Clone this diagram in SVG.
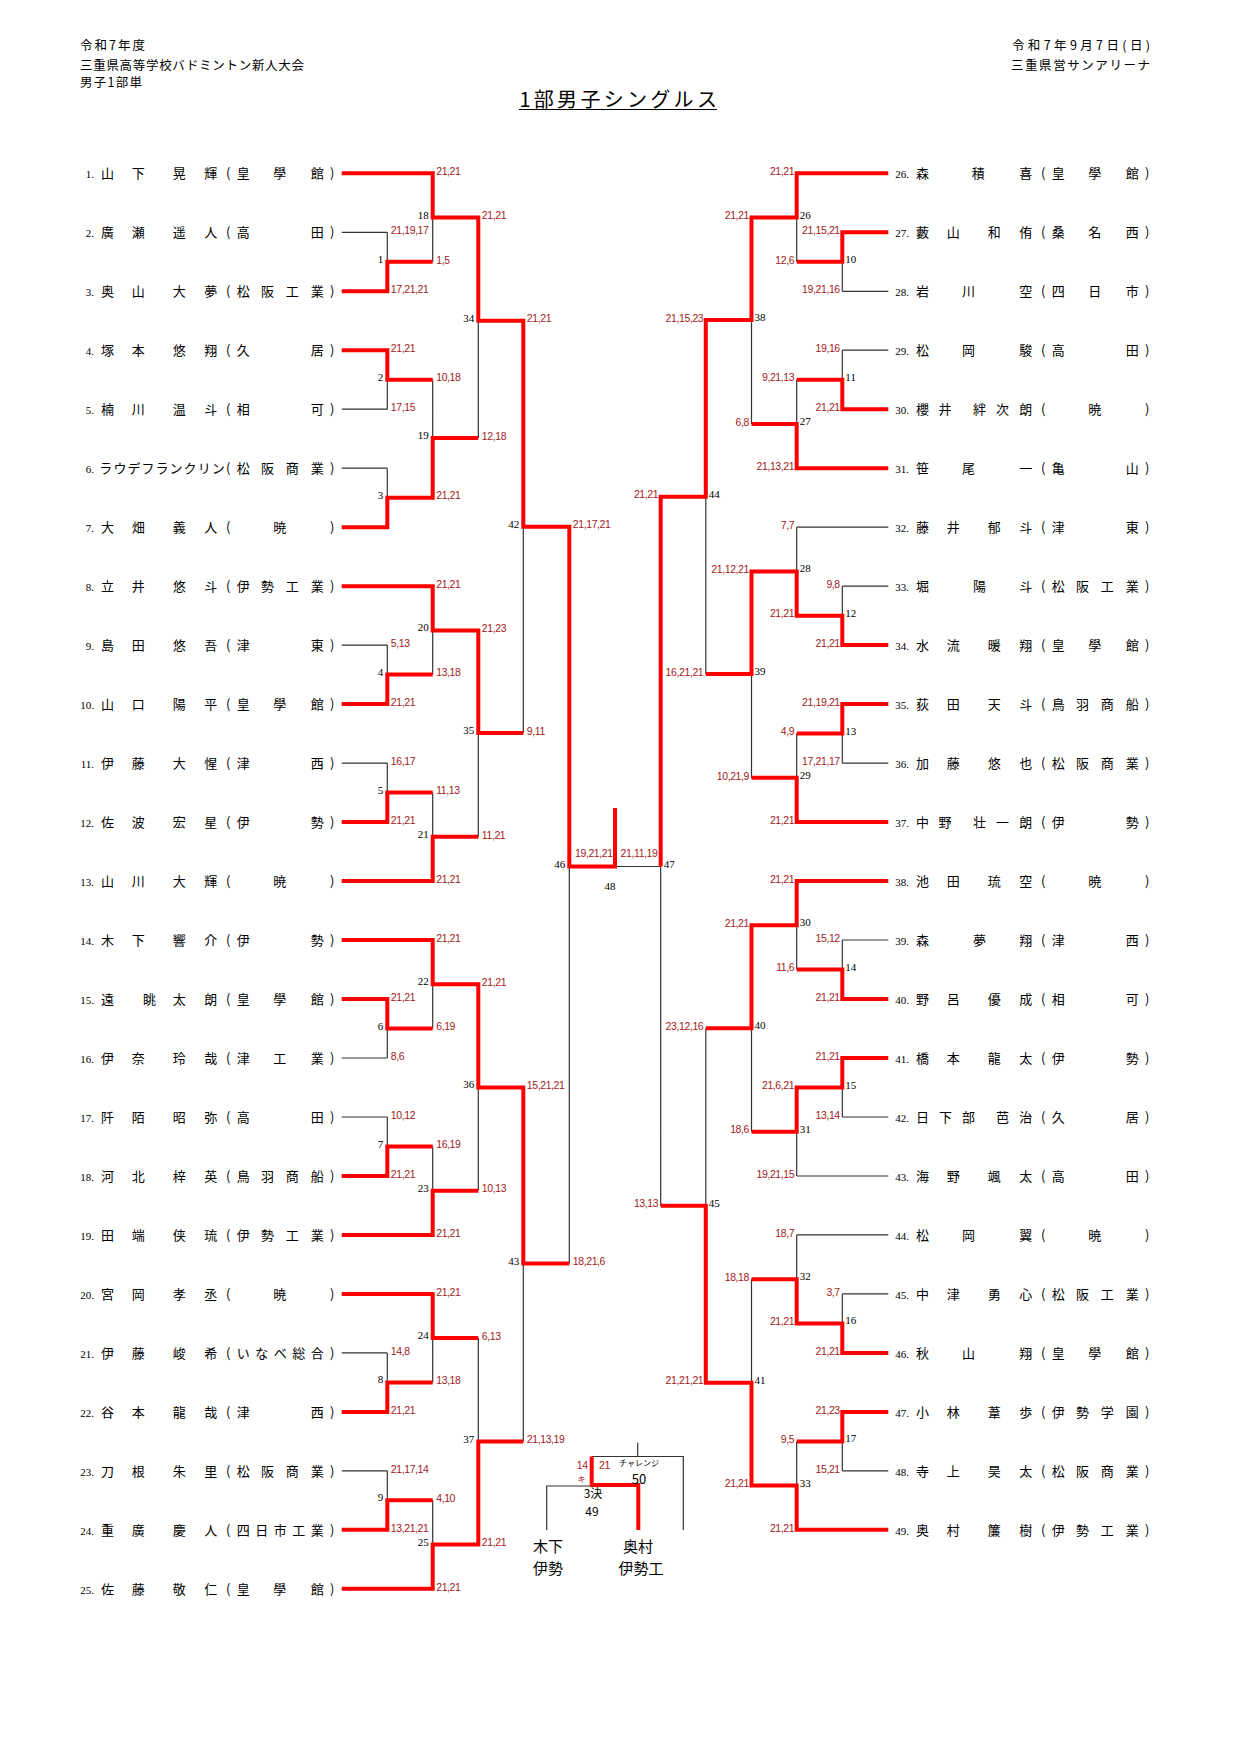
<svg xmlns="http://www.w3.org/2000/svg" width="1241" height="1755" viewBox="0 0 1241 1755">
<style>
.hd{font-family:"Noto Sans CJK JP",sans-serif;font-size:12.5px;fill:#000}
.nm{font-family:"Noto Sans CJK JP",sans-serif;font-size:13px;fill:#000}
.no{font-family:"Liberation Serif",serif;font-size:11px;fill:#000;text-anchor:end}
.mn{font-family:"Liberation Serif",serif;font-size:11px;fill:#000;text-anchor:end}
.mr{font-family:"Liberation Serif",serif;font-size:11px;fill:#000}
.sl{font-family:"Liberation Sans",sans-serif;font-size:10.5px;fill:#a31a1a;letter-spacing:-0.4px}
.sr{font-family:"Liberation Sans",sans-serif;font-size:10.5px;fill:#a31a1a;letter-spacing:-0.4px;text-anchor:end}
.w{fill:none;stroke:#ff0000;stroke-width:4;stroke-linejoin:miter}
.l{fill:none;stroke:#333;stroke-width:1.2}
.bt{font-family:"Noto Sans CJK JP",sans-serif;fill:#000;text-anchor:middle}
</style>
<rect width="1241" height="1755" fill="#fff"/>
<g id="header">
<text class="hd" x="80" y="50" textLength="65">令和7年度</text>
<text class="hd" x="80" y="70" textLength="224">三重県高等学校バドミントン新人大会</text>
<text class="hd" x="80" y="87" textLength="62">男子1部単</text>
<text class="hd" x="1012" y="50" textLength="138">令和7年9月7日(日)</text>
<text class="hd" x="1011" y="70" textLength="139">三重県営サンアリーナ</text>
</g>
<g id="title">
<text x="519.4" y="107" textLength="197.5" font-family="Noto Sans CJK JP, sans-serif" font-size="20">1部男子シングルス</text>
<line x1="519" y1="109.5" x2="717" y2="109.5" stroke="#000" stroke-width="1"/>
</g>
<g id="connectors">
<path class="l" d="M341.7 232.3H387.3M341.7 409.2H387.3M341.7 468.2H387.3M341.7 645.1H387.3M341.7 763.1H387.3M341.7 1058H387.3M341.7 1117H387.3M341.7 1352.9H387.3M341.7 1470.8H387.3
M387.3 232.3V261.8M387.3 379.7V409.2M387.3 468.2V497.7M387.3 645.1V674.6M387.3 763.1V792.6M387.3 1028.5V1058M387.3 1117V1146.5M387.3 1352.9V1382.4M387.3 1470.8V1500.3
M432.7 217.5V261.8M432.7 379.7V438M432.7 630.4V674.6M432.7 792.6V836.8M432.7 984.2V1028.5M432.7 1146.5V1190.7M432.7 1338.1V1382.4M432.7 1500.3V1544.5
M478.3 320.7V438M478.3 733V836.8M478.3 1087.4V1190.7M478.3 1338.1V1441.5
M523.3 526.7V733M523.3 1263.5V1441.5M569.3 866.5V1263.5M615 866.5H660.7M660.7 866.5V1205.7
M705.8 496.7V674M705.8 1028.3V1205.7
M751.5 320V424M751.5 674V777.8M751.5 1028.3V1131.7M751.5 1279.2V1382.7
M796.7 217.5V261.8M796.7 379.7V424M796.7 527.2V571.4M796.7 733.6V777.8M796.7 925.3V969.5M796.7 1131.7V1176M796.7 1234.9V1279.2M796.7 1441.4V1485.6
M842.3 261.8V291.3M842.3 350.2V379.7M842.3 586.2V615.7M842.3 733.6V763.1M842.3 940V969.5M842.3 1087.5V1117M842.3 1293.9V1323.4M842.3 1441.4V1470.8
M888.3 291.3H842.3M888.3 350.2H842.3M888.3 527.2H796.7M888.3 586.2H842.3M888.3 763.1H842.3M888.3 940H842.3M888.3 1117H842.3M888.3 1176H796.7M888.3 1234.9H796.7M888.3 1293.9H842.3M888.3 1470.8H842.3
M546.7 1530V1486H591.7M591.7 1456.5H683.3V1530M637.7 1442.7V1456.5"/>
<path class="w" d="M341.7 173.3H432.7V217.5H478.3V320.7H523.3V526.7H569.3V866.5H615V808"/>
<path class="w" d="M341.7 291.3H387.3V261.8H432.7"/>
<path class="w" d="M341.7 350.2H387.3V379.7H432.7"/>
<path class="w" d="M341.7 527.2H387.3V497.7H432.7V438H478.3"/>
<path class="w" d="M341.7 586.2H432.7V630.4H478.3V733H523.3"/>
<path class="w" d="M341.7 704.1H387.3V674.6H432.7"/>
<path class="w" d="M341.7 822.1H387.3V792.6H432.7"/>
<path class="w" d="M341.7 881.1H432.7V836.8H478.3"/>
<path class="w" d="M341.7 940H432.7V984.2H478.3V1087.4H523.3V1263.5H569.3"/>
<path class="w" d="M341.7 999H387.3V1028.5H432.7"/>
<path class="w" d="M341.7 1176H387.3V1146.5H432.7"/>
<path class="w" d="M341.7 1234.9H432.7V1190.7H478.3"/>
<path class="w" d="M341.7 1293.9H432.7V1338.1H478.3"/>
<path class="w" d="M341.7 1411.9H387.3V1382.4H432.7"/>
<path class="w" d="M341.7 1529.8H387.3V1500.3H432.7"/>
<path class="w" d="M341.7 1588.8H432.7V1544.5H478.3V1441.5H523.3"/>
<path class="w" d="M888.3 173.3H796.7V217.5H751.5V320H705.8V496.7H660.7V866.5"/>
<path class="w" d="M888.3 232.3H842.3V261.8H796.7"/>
<path class="w" d="M888.3 409.2H842.3V379.7H796.7"/>
<path class="w" d="M888.3 468.2H796.7V424H751.5"/>
<path class="w" d="M888.3 645.1H842.3V615.7H796.7V571.4H751.5V674H705.8"/>
<path class="w" d="M888.3 704.1H842.3V733.6H796.7"/>
<path class="w" d="M888.3 822.1H796.7V777.8H751.5"/>
<path class="w" d="M888.3 881.1H796.7V925.3H751.5V1028.3H705.8"/>
<path class="w" d="M888.3 999H842.3V969.5H796.7"/>
<path class="w" d="M888.3 1058H842.3V1087.5H796.7V1131.7H751.5"/>
<path class="w" d="M888.3 1352.9H842.3V1323.4H796.7V1279.2H751.5"/>
<path class="w" d="M888.3 1411.9H842.3V1441.4H796.7"/>
<path class="w" d="M888.3 1529.8H796.7V1485.6H751.5V1382.7H705.8V1205.7H660.7"/>
<path class="w" d="M638.3 1530V1485H591.7V1456.5"/>
</g>
<g id="players-left">
<g id="p1"><text class="no" x="94" y="178.3">1.</text><text class="nm" x="101 131.7 172.7 204.3 226 236.7 273.3 310.7 330" y="178.3">山下晃輝(皇學館)</text></g>
<g id="p2"><text class="no" x="94" y="237.3">2.</text><text class="nm" x="101 131.7 172.7 204.3 226 236.7 310.7 330" y="237.3">廣瀬遥人(高田)</text></g>
<g id="p3"><text class="no" x="94" y="296.3">3.</text><text class="nm" x="101 131.7 172.7 204.3 226 236.7 261 285.7 310.7 330" y="296.3">奥山大夢(松阪工業)</text></g>
<g id="p4"><text class="no" x="94" y="355.2">4.</text><text class="nm" x="101 131.7 172.7 204.3 226 236.7 310.7 330" y="355.2">塚本悠翔(久居)</text></g>
<g id="p5"><text class="no" x="94" y="414.2">5.</text><text class="nm" x="101 131.7 172.7 204.3 226 236.7 310.7 330" y="414.2">楠川温斗(相可)</text></g>
<g id="p6"><text class="no" x="94" y="473.2">6.</text><text class="nm" x="99.3 113.4 127.4 141.5 155.5 169.6 183.6 197.7 211.7 226 236.7 261 285.7 310.7 330" y="473.2">ラウデフランクリン(松阪商業)</text></g>
<g id="p7"><text class="no" x="94" y="532.2">7.</text><text class="nm" x="101 131.7 172.7 204.3 226 273.3 330" y="532.2">大畑義人(暁)</text></g>
<g id="p8"><text class="no" x="94" y="591.2">8.</text><text class="nm" x="101 131.7 172.7 204.3 226 236.7 261 285.7 310.7 330" y="591.2">立井悠斗(伊勢工業)</text></g>
<g id="p9"><text class="no" x="94" y="650.1">9.</text><text class="nm" x="101 131.7 172.7 204.3 226 236.7 310.7 330" y="650.1">島田悠吾(津東)</text></g>
<g id="p10"><text class="no" x="94" y="709.1">10.</text><text class="nm" x="101 131.7 172.7 204.3 226 236.7 273.3 310.7 330" y="709.1">山口陽平(皇學館)</text></g>
<g id="p11"><text class="no" x="94" y="768.1">11.</text><text class="nm" x="101 131.7 172.7 204.3 226 236.7 310.7 330" y="768.1">伊藤大惺(津西)</text></g>
<g id="p12"><text class="no" x="94" y="827.1">12.</text><text class="nm" x="101 131.7 172.7 204.3 226 236.7 310.7 330" y="827.1">佐波宏星(伊勢)</text></g>
<g id="p13"><text class="no" x="94" y="886.1">13.</text><text class="nm" x="101 131.7 172.7 204.3 226 273.3 330" y="886.1">山川大輝(暁)</text></g>
<g id="p14"><text class="no" x="94" y="945">14.</text><text class="nm" x="101 131.7 172.7 204.3 226 236.7 310.7 330" y="945">木下響介(伊勢)</text></g>
<g id="p15"><text class="no" x="94" y="1004">15.</text><text class="nm" x="101 143 172.7 204.3 226 236.7 273.3 310.7 330" y="1004">遠眺太朗(皇學館)</text></g>
<g id="p16"><text class="no" x="94" y="1063">16.</text><text class="nm" x="101 131.7 172.7 204.3 226 236.7 273.3 310.7 330" y="1063">伊奈玲哉(津工業)</text></g>
<g id="p17"><text class="no" x="94" y="1122">17.</text><text class="nm" x="101 131.7 172.7 204.3 226 236.7 310.7 330" y="1122">阡陌昭弥(高田)</text></g>
<g id="p18"><text class="no" x="94" y="1181">18.</text><text class="nm" x="101 131.7 172.7 204.3 226 236.7 261 285.7 310.7 330" y="1181">河北梓英(鳥羽商船)</text></g>
<g id="p19"><text class="no" x="94" y="1239.9">19.</text><text class="nm" x="101 131.7 172.7 204.3 226 236.7 261 285.7 310.7 330" y="1239.9">田端侠琉(伊勢工業)</text></g>
<g id="p20"><text class="no" x="94" y="1298.9">20.</text><text class="nm" x="101 131.7 172.7 204.3 226 273.3 330" y="1298.9">宮岡孝丞(暁)</text></g>
<g id="p21"><text class="no" x="94" y="1357.9">21.</text><text class="nm" x="101 131.7 172.7 204.3 226 236.7 255.2 273.7 292.2 310.7 330" y="1357.9">伊藤峻希(いなべ総合)</text></g>
<g id="p22"><text class="no" x="94" y="1416.9">22.</text><text class="nm" x="101 131.7 172.7 204.3 226 236.7 310.7 330" y="1416.9">谷本龍哉(津西)</text></g>
<g id="p23"><text class="no" x="94" y="1475.8">23.</text><text class="nm" x="101 131.7 172.7 204.3 226 236.7 261 285.7 310.7 330" y="1475.8">刀根朱里(松阪商業)</text></g>
<g id="p24"><text class="no" x="94" y="1534.8">24.</text><text class="nm" x="101 131.7 172.7 204.3 226 236.7 255.2 273.7 292.2 310.7 330" y="1534.8">重廣慶人(四日市工業)</text></g>
<g id="p25"><text class="no" x="94" y="1593.8">25.</text><text class="nm" x="101 131.7 172.7 204.3 226 236.7 273.3 310.7 330" y="1593.8">佐藤敬仁(皇學館)</text></g>
</g>
<g id="players-right">
<g id="p26"><text class="no" x="909" y="178.3">26.</text><text class="nm" x="916 971.7 1019.3 1041 1051.7 1088.3 1125.7 1145" y="178.3">森積喜(皇學館)</text></g>
<g id="p27"><text class="no" x="909" y="237.3">27.</text><text class="nm" x="916 946.7 987.7 1019.3 1041 1051.7 1088.3 1125.7 1145" y="237.3">藪山和侑(桑名西)</text></g>
<g id="p28"><text class="no" x="909" y="296.3">28.</text><text class="nm" x="916 962 1019.3 1041 1051.7 1088.3 1125.7 1145" y="296.3">岩川空(四日市)</text></g>
<g id="p29"><text class="no" x="909" y="355.2">29.</text><text class="nm" x="916 962 1019.3 1041 1051.7 1125.7 1145" y="355.2">松岡駿(高田)</text></g>
<g id="p30"><text class="no" x="909" y="414.2">30.</text><text class="nm" x="916 938.5 973 996 1019.3 1041 1088.3 1145" y="414.2">櫻井絆次朗(暁)</text></g>
<g id="p31"><text class="no" x="909" y="473.2">31.</text><text class="nm" x="916 962 1019.3 1041 1051.7 1125.7 1145" y="473.2">笹尾一(亀山)</text></g>
<g id="p32"><text class="no" x="909" y="532.2">32.</text><text class="nm" x="916 946.7 987.7 1019.3 1041 1051.7 1125.7 1145" y="532.2">藤井郁斗(津東)</text></g>
<g id="p33"><text class="no" x="909" y="591.2">33.</text><text class="nm" x="916 973 1019.3 1041 1051.7 1076 1100.7 1125.7 1145" y="591.2">堀陽斗(松阪工業)</text></g>
<g id="p34"><text class="no" x="909" y="650.1">34.</text><text class="nm" x="916 946.7 987.7 1019.3 1041 1051.7 1088.3 1125.7 1145" y="650.1">水流暖翔(皇學館)</text></g>
<g id="p35"><text class="no" x="909" y="709.1">35.</text><text class="nm" x="916 946.7 987.7 1019.3 1041 1051.7 1076 1100.7 1125.7 1145" y="709.1">荻田天斗(鳥羽商船)</text></g>
<g id="p36"><text class="no" x="909" y="768.1">36.</text><text class="nm" x="916 946.7 987.7 1019.3 1041 1051.7 1076 1100.7 1125.7 1145" y="768.1">加藤悠也(松阪商業)</text></g>
<g id="p37"><text class="no" x="909" y="827.1">37.</text><text class="nm" x="916 938.5 973 996 1019.3 1041 1051.7 1125.7 1145" y="827.1">中野壮一朗(伊勢)</text></g>
<g id="p38"><text class="no" x="909" y="886.1">38.</text><text class="nm" x="916 946.7 987.7 1019.3 1041 1088.3 1145" y="886.1">池田琉空(暁)</text></g>
<g id="p39"><text class="no" x="909" y="945">39.</text><text class="nm" x="916 973 1019.3 1041 1051.7 1125.7 1145" y="945">森夢翔(津西)</text></g>
<g id="p40"><text class="no" x="909" y="1004">40.</text><text class="nm" x="916 946.7 987.7 1019.3 1041 1051.7 1125.7 1145" y="1004">野呂優成(相可)</text></g>
<g id="p41"><text class="no" x="909" y="1063">41.</text><text class="nm" x="916 946.7 987.7 1019.3 1041 1051.7 1125.7 1145" y="1063">橋本龍太(伊勢)</text></g>
<g id="p42"><text class="no" x="909" y="1122">42.</text><text class="nm" x="916 939 962 996 1019.3 1041 1051.7 1125.7 1145" y="1122">日下部芭治(久居)</text></g>
<g id="p43"><text class="no" x="909" y="1181">43.</text><text class="nm" x="916 946.7 987.7 1019.3 1041 1051.7 1125.7 1145" y="1181">海野颯太(高田)</text></g>
<g id="p44"><text class="no" x="909" y="1239.9">44.</text><text class="nm" x="916 962 1019.3 1041 1088.3 1145" y="1239.9">松岡翼(暁)</text></g>
<g id="p45"><text class="no" x="909" y="1298.9">45.</text><text class="nm" x="916 946.7 987.7 1019.3 1041 1051.7 1076 1100.7 1125.7 1145" y="1298.9">中津勇心(松阪工業)</text></g>
<g id="p46"><text class="no" x="909" y="1357.9">46.</text><text class="nm" x="916 962 1019.3 1041 1051.7 1088.3 1125.7 1145" y="1357.9">秋山翔(皇學館)</text></g>
<g id="p47"><text class="no" x="909" y="1416.9">47.</text><text class="nm" x="916 946.7 987.7 1019.3 1041 1051.7 1076 1100.7 1125.7 1145" y="1416.9">小林葦歩(伊勢学園)</text></g>
<g id="p48"><text class="no" x="909" y="1475.8">48.</text><text class="nm" x="916 946.7 987.7 1019.3 1041 1051.7 1076 1100.7 1125.7 1145" y="1475.8">寺上昊太(松阪商業)</text></g>
<g id="p49"><text class="no" x="909" y="1534.8">49.</text><text class="nm" x="916 946.7 987.7 1019.3 1041 1051.7 1076 1100.7 1125.7 1145" y="1534.8">奥村簾樹(伊勢工業)</text></g>
</g>
<g id="matches-left">
<g id="m1"><text class="mn" x="383.3" y="262.8">1</text><text class="sl" x="390.8" y="234">21,19,17</text><text class="sl" x="390.8" y="293">17,21,21</text></g>
<g id="m2"><text class="mn" x="383.3" y="380.7">2</text><text class="sl" x="390.8" y="351.9">21,21</text><text class="sl" x="390.8" y="410.9">17,15</text></g>
<g id="m3"><text class="mn" x="383.3" y="498.7">3</text></g>
<g id="m4"><text class="mn" x="383.3" y="675.6">4</text><text class="sl" x="390.8" y="646.8">5,13</text><text class="sl" x="390.8" y="705.8">21,21</text></g>
<g id="m5"><text class="mn" x="383.3" y="793.6">5</text><text class="sl" x="390.8" y="764.8">16,17</text><text class="sl" x="390.8" y="823.8">21,21</text></g>
<g id="m6"><text class="mn" x="383.3" y="1029.5">6</text><text class="sl" x="390.8" y="1000.7">21,21</text><text class="sl" x="390.8" y="1059.7">8,6</text></g>
<g id="m7"><text class="mn" x="383.3" y="1147.5">7</text><text class="sl" x="390.8" y="1118.7">10,12</text><text class="sl" x="390.8" y="1177.7">21,21</text></g>
<g id="m8"><text class="mn" x="383.3" y="1383.4">8</text><text class="sl" x="390.8" y="1354.6">14,8</text><text class="sl" x="390.8" y="1413.6">21,21</text></g>
<g id="m9"><text class="mn" x="383.3" y="1501.3">9</text><text class="sl" x="390.8" y="1472.5">21,17,14</text><text class="sl" x="390.8" y="1531.5">13,21,21</text></g>
<g id="m18"><text class="mn" x="428.7" y="218.5">18</text><text class="sl" x="436.2" y="175">21,21</text><text class="sl" x="436.2" y="263.5">1,5</text></g>
<g id="m19"><text class="mn" x="428.7" y="439">19</text><text class="sl" x="436.2" y="381.4">10,18</text><text class="sl" x="436.2" y="499.4">21,21</text></g>
<g id="m20"><text class="mn" x="428.7" y="631.4">20</text><text class="sl" x="436.2" y="587.9">21,21</text><text class="sl" x="436.2" y="676.3">13,18</text></g>
<g id="m21"><text class="mn" x="428.7" y="837.8">21</text><text class="sl" x="436.2" y="794.3">11,13</text><text class="sl" x="436.2" y="882.8">21,21</text></g>
<g id="m22"><text class="mn" x="428.7" y="985.2">22</text><text class="sl" x="436.2" y="941.7">21,21</text><text class="sl" x="436.2" y="1030.2">6,19</text></g>
<g id="m23"><text class="mn" x="428.7" y="1191.7">23</text><text class="sl" x="436.2" y="1148.2">16,19</text><text class="sl" x="436.2" y="1236.6">21,21</text></g>
<g id="m24"><text class="mn" x="428.7" y="1339.1">24</text><text class="sl" x="436.2" y="1295.6">21,21</text><text class="sl" x="436.2" y="1384.1">13,18</text></g>
<g id="m25"><text class="mn" x="428.7" y="1545.5">25</text><text class="sl" x="436.2" y="1502">4,10</text><text class="sl" x="436.2" y="1590.5">21,21</text></g>
<g id="m34"><text class="mn" x="474.3" y="321.7">34</text><text class="sl" x="481.8" y="219.2">21,21</text><text class="sl" x="481.8" y="439.7">12,18</text></g>
<g id="m35"><text class="mn" x="474.3" y="734">35</text><text class="sl" x="481.8" y="632.1">21,23</text><text class="sl" x="481.8" y="838.5">11,21</text></g>
<g id="m36"><text class="mn" x="474.3" y="1088.4">36</text><text class="sl" x="481.8" y="985.9">21,21</text><text class="sl" x="481.8" y="1192.4">10,13</text></g>
<g id="m37"><text class="mn" x="474.3" y="1442.5">37</text><text class="sl" x="481.8" y="1339.8">6,13</text><text class="sl" x="481.8" y="1546.2">21,21</text></g>
<g id="m42"><text class="mn" x="519.3" y="527.7">42</text><text class="sl" x="526.8" y="322.4">21,21</text><text class="sl" x="526.8" y="734.7">9,11</text></g>
<g id="m43"><text class="mn" x="519.3" y="1264.5">43</text><text class="sl" x="526.8" y="1089.1">15,21,21</text><text class="sl" x="526.8" y="1443.2">21,13,19</text></g>
<g id="m46"><text class="mn" x="565.3" y="867.5">46</text><text class="sl" x="572.8" y="528.4">21,17,21</text><text class="sl" x="572.8" y="1265.2">18,21,6</text></g>
</g>
<g id="m48"><text class="mr" x="610" y="890" text-anchor="middle">48</text><text class="sl" x="575" y="857">19,21,21</text><text class="sr" x="657.5" y="857">21,11,19</text></g>
<g id="matches-right">
<g id="m10"><text class="mr" x="845.3" y="262.8">10</text><text class="sr" x="839.8" y="234">21,15,21</text><text class="sr" x="839.8" y="293">19,21,16</text></g>
<g id="m11"><text class="mr" x="845.3" y="380.7">11</text><text class="sr" x="839.8" y="351.9">19,16</text><text class="sr" x="839.8" y="410.9">21,21</text></g>
<g id="m12"><text class="mr" x="845.3" y="616.7">12</text><text class="sr" x="839.8" y="587.9">9,8</text><text class="sr" x="839.8" y="646.8">21,21</text></g>
<g id="m13"><text class="mr" x="845.3" y="734.6">13</text><text class="sr" x="839.8" y="705.8">21,19,21</text><text class="sr" x="839.8" y="764.8">17,21,17</text></g>
<g id="m14"><text class="mr" x="845.3" y="970.5">14</text><text class="sr" x="839.8" y="941.7">15,12</text><text class="sr" x="839.8" y="1000.7">21,21</text></g>
<g id="m15"><text class="mr" x="845.3" y="1088.5">15</text><text class="sr" x="839.8" y="1059.7">21,21</text><text class="sr" x="839.8" y="1118.7">13,14</text></g>
<g id="m16"><text class="mr" x="845.3" y="1324.4">16</text><text class="sr" x="839.8" y="1295.6">3,7</text><text class="sr" x="839.8" y="1354.6">21,21</text></g>
<g id="m17"><text class="mr" x="845.3" y="1442.4">17</text><text class="sr" x="839.8" y="1413.6">21,23</text><text class="sr" x="839.8" y="1472.5">15,21</text></g>
<g id="m26"><text class="mr" x="799.7" y="218.5">26</text><text class="sr" x="794.2" y="175">21,21</text><text class="sr" x="794.2" y="263.5">12,6</text></g>
<g id="m27"><text class="mr" x="799.7" y="425">27</text><text class="sr" x="794.2" y="381.4">9,21,13</text><text class="sr" x="794.2" y="469.9">21,13,21</text></g>
<g id="m28"><text class="mr" x="799.7" y="572.4">28</text><text class="sr" x="794.2" y="528.9">7,7</text><text class="sr" x="794.2" y="617.4">21,21</text></g>
<g id="m29"><text class="mr" x="799.7" y="778.8">29</text><text class="sr" x="794.2" y="735.3">4,9</text><text class="sr" x="794.2" y="823.8">21,21</text></g>
<g id="m30"><text class="mr" x="799.7" y="926.3">30</text><text class="sr" x="794.2" y="882.8">21,21</text><text class="sr" x="794.2" y="971.2">11,6</text></g>
<g id="m31"><text class="mr" x="799.7" y="1132.7">31</text><text class="sr" x="794.2" y="1089.2">21,6,21</text><text class="sr" x="794.2" y="1177.7">19,21,15</text></g>
<g id="m32"><text class="mr" x="799.7" y="1280.2">32</text><text class="sr" x="794.2" y="1236.6">18,7</text><text class="sr" x="794.2" y="1325.1">21,21</text></g>
<g id="m33"><text class="mr" x="799.7" y="1486.6">33</text><text class="sr" x="794.2" y="1443.1">9,5</text><text class="sr" x="794.2" y="1531.5">21,21</text></g>
<g id="m38"><text class="mr" x="754.5" y="321">38</text><text class="sr" x="749" y="219.2">21,21</text><text class="sr" x="749" y="425.7">6,8</text></g>
<g id="m39"><text class="mr" x="754.5" y="675">39</text><text class="sr" x="749" y="573.1">21,12,21</text><text class="sr" x="749" y="779.5">10,21,9</text></g>
<g id="m40"><text class="mr" x="754.5" y="1029.3">40</text><text class="sr" x="749" y="927">21,21</text><text class="sr" x="749" y="1133.4">18,6</text></g>
<g id="m41"><text class="mr" x="754.5" y="1383.7">41</text><text class="sr" x="749" y="1280.9">18,18</text><text class="sr" x="749" y="1487.3">21,21</text></g>
<g id="m44"><text class="mr" x="708.8" y="497.7">44</text><text class="sr" x="703.3" y="321.7">21,15,23</text><text class="sr" x="703.3" y="675.7">16,21,21</text></g>
<g id="m45"><text class="mr" x="708.8" y="1206.7">45</text><text class="sr" x="703.3" y="1030">23,12,16</text><text class="sr" x="703.3" y="1384.4">21,21,21</text></g>
<g id="m47"><text class="mr" x="663.7" y="867.5">47</text><text class="sr" x="658.2" y="498.4">21,21</text><text class="sr" x="658.2" y="1207.4">13,13</text></g>
</g>
<g id="m49">
<text class="sl" x="576.7" y="1469">14</text>
<text x="577.5" y="1481.5" font-family="Noto Sans CJK JP, sans-serif" font-size="8" fill="#a31a1a">キ</text>
<text class="bt" x="593" y="1498" font-size="12">3決</text>
<text class="bt" x="592" y="1516" font-size="12">49</text>
</g>
<g id="m50">
<text class="sl" x="599" y="1469">21</text>
<text x="619" y="1465.5" font-family="Noto Sans CJK JP, sans-serif" font-size="8" fill="#000">チャレンジ</text>
<text class="bt" x="639" y="1484" font-size="13">50</text>
</g>
<g id="p-kinoshita"><text class="bt" x="548" y="1551.5" font-size="15">木下</text><text class="bt" x="548" y="1573.5" font-size="15">伊勢</text></g>
<g id="p-okumura"><text class="bt" x="638" y="1551.5" font-size="15">奥村</text><text class="bt" x="641" y="1573.5" font-size="15">伊勢工</text></g>
</svg>
